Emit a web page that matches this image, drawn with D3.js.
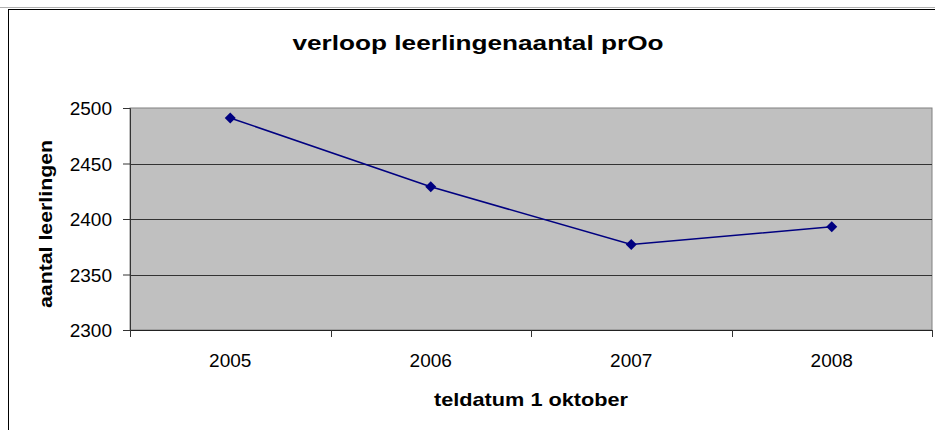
<!DOCTYPE html>
<html>
<head>
<meta charset="utf-8">
<script src="https://cdn.jsdelivr.net/npm/d3@7"></script>
<style>
	body { margin: 0; background: #fff; }
	text { font-family: "Liberation Sans", Arial, sans-serif; fill: #000; }
</style>
</head>
<body>
<div id="chart"></div>
<script>
// Chart data
var years = ["2005", "2006", "2007", "2008"];
var pupils = [2491, 2429, 2377, 2393];
var yTicks = [2300, 2350, 2400, 2450, 2500];

var chartTitle = "verloop leerlingenaantal prOo";
var xTitle = "teldatum 1 oktober";
var yTitle = "aantal leerlingen";

// SVG sizing
var totalWidth = 935, totalHeight = 430;
var margin = {top: 108, right: 3, bottom: 100, left: 130};
var width = totalWidth - margin.left - margin.right;
var height = 330 - margin.top;

var svg = d3.select("#chart").append("svg")
	.attr("width", totalWidth)
	.attr("height", totalHeight);

// thin gray rule at the very top (page edge) and the chart frame
svg.append("line")
	.attr("x1", 0).attr("x2", totalWidth)
	.attr("y1", 7.5).attr("y2", 7.5)
	.attr("stroke", "#b0b0b0");

svg.append("rect")
	.attr("x", 8.5).attr("y", 9.5)
	.attr("width", 950).attr("height", 440)
	.attr("fill", "none")
	.attr("stroke", "#000");

var x = d3.scaleBand()
	.domain(years)
	.range([0, width]);

var y = d3.scaleLinear()
	.domain([2300, 2500])
	.range([height, 0]);

var main = svg.append("g")
	.attr("transform", "translate(" + margin.left + "," + margin.top + ")");

// Plot area
main.append("rect")
	.attr("width", width)
	.attr("height", height)
	.attr("fill", "#c0c0c0")
	.attr("stroke", "#808080");

// Gridlines
main.append("g").selectAll(".grid")
	.data(yTicks.slice(1, -1))
	.enter().append("line")
	.attr("x1", 0)
	.attr("x2", width)
	.attr("y1", function(d) { return Math.round(y(d)) + .5; })
	.attr("y2", function(d) { return Math.round(y(d)) + .5; })
	.attr("stroke", "#333");

// Y axis
var yAxis = d3.axisLeft(y)
	.tickValues(yTicks)
	.tickFormat(d3.format("d"))
	.tickSize(7)
	.tickPadding(11);
var yg = main.append("g").call(yAxis);
yg.attr("font-family", null).attr("font-size", null);
yg.select(".domain").attr("stroke", "#333");
yg.selectAll(".tick line").attr("stroke", "#333");
yg.selectAll("text")
	.attr("dy", "0.36em")
	.style("font-size", "19px");

// X axis - ticks on the band boundaries
var xg = main.append("g")
	.attr("transform", "translate(0," + height + ")");

xg.append("line")
	.attr("x1", 0).attr("x2", width)
	.attr("y1", 0.5).attr("y2", 0.5)
	.attr("stroke", "#222");

xg.selectAll(".xtick")
	.data(years.concat(["end"]))
	.enter().append("line")
	.attr("x1", function(d, i) { return Math.round(i * x.step()) + .5; })
	.attr("x2", function(d, i) { return Math.round(i * x.step()) + .5; })
	.attr("y1", 0)
	.attr("y2", 7)
	.attr("stroke", "#333");

xg.selectAll(".xlabel")
	.data(years)
	.enter().append("text")
	.attr("x", function(d) { return x(d) + x.bandwidth() / 2; })
	.attr("y", 37)
	.attr("text-anchor", "middle")
	.style("font-size", "19px")
	.text(function(d) { return d; });

// Line and diamond markers
var line = d3.line()
	.x(function(d, i) { return x(years[i]) + x.bandwidth() / 2; })
	.y(function(d) { return y(d); });

main.append("path")
	.datum(pupils)
	.attr("d", line)
	.attr("fill", "none")
	.attr("stroke", "#000080")
	.attr("stroke-width", 1.5);

main.append("g").selectAll(".marker")
	.data(pupils)
	.enter().append("path")
	.attr("d", "M0,-5.5L5.5,0L0,5.5L-5.5,0Z")
	.attr("transform", function(d, i) {
		return "translate(" + (x(years[i]) + x.bandwidth() / 2) + "," + y(d) + ")";
	})
	.attr("fill", "#000080");

// Titles - the original text is set wider than the font, so stretch it
svg.append("text")
	.attr("x", 478)
	.attr("y", 50)
	.attr("text-anchor", "middle")
	.attr("textLength", 371)
	.attr("lengthAdjust", "spacingAndGlyphs")
	.style("font-size", "20px")
	.style("font-weight", "bold")
	.text(chartTitle);

svg.append("text")
	.attr("x", margin.left + width / 2)
	.attr("y", 406)
	.attr("text-anchor", "middle")
	.attr("textLength", 194)
	.attr("lengthAdjust", "spacingAndGlyphs")
	.style("font-size", "19px")
	.style("font-weight", "bold")
	.text(xTitle);

svg.append("text")
	.attr("transform", "translate(52,224) rotate(-90)")
	.attr("text-anchor", "middle")
	.attr("textLength", 168)
	.attr("lengthAdjust", "spacingAndGlyphs")
	.style("font-size", "19px")
	.style("font-weight", "bold")
	.text(yTitle);
</script>
</body>
</html>
